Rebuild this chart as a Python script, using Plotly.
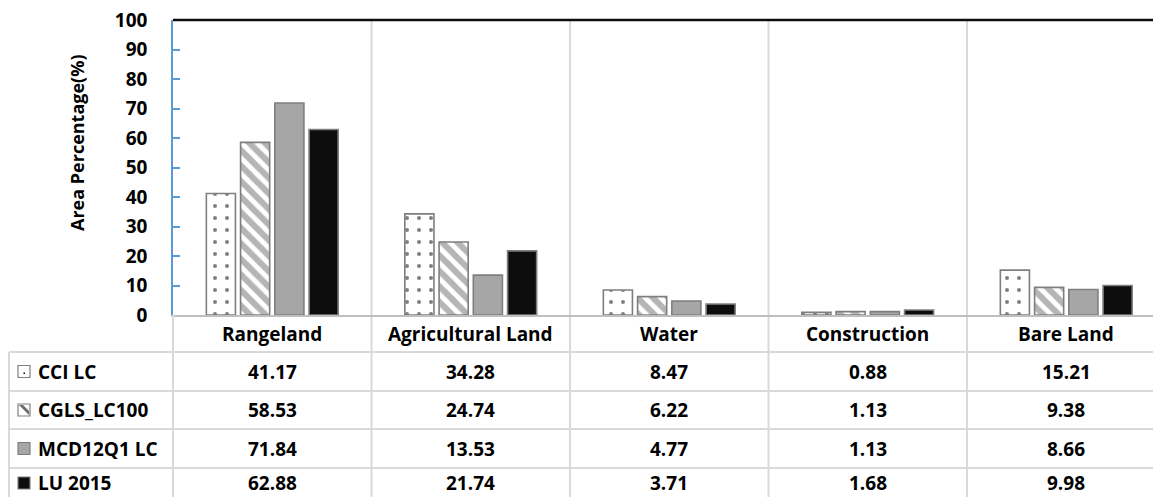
import plotly.graph_objects as go

categories = ["Rangeland", "Agricultural Land", "Water", "Construction", "Bare Land"]
series_names = ["CCI LC", "CGLS_LC100", "MCD12Q1 LC", "LU 2015"]
cci = [41.17, 34.28, 8.47, 0.88, 15.21]
cgls = [58.53, 24.74, 6.22, 1.13, 9.38]
mcd = [71.84, 13.53, 4.77, 1.13, 8.66]
lu = [62.88, 21.74, 3.71, 1.68, 9.98]
y_ticks = [0, 10, 20, 30, 40, 50, 60, 70, 80, 90, 100]

W, H = 1153, 497
FONT = "Open Sans"
GRID = "#d9d9d9"
OUTLINE = "#7f7f7f"
FS = 19

def px(x):
    return x / W

def py(y):
    return 1 - y / H

series = [cci, cgls, mcd, lu]
styles = [
    dict(color="white", pattern=dict(shape=".", fgcolor="black", bgcolor="white", size=12, solidity=0.09)),
    dict(color="white", pattern=dict(shape="\\", fgcolor="#6b6b6b", bgcolor="white", size=11, solidity=0.55)),
    dict(color="#a6a6a6"),
    dict(color="#0d0d0d"),
]

xpos = list(range(len(categories)))
fig = go.Figure()
for name, vals, st in zip(series_names, series, styles):
    marker = dict(color=st["color"], line=dict(color=OUTLINE, width=1.6))
    if "pattern" in st:
        marker["pattern"] = st["pattern"]
    fig.add_trace(go.Bar(x=xpos, y=vals, name=name, marker=marker, showlegend=False))

col_w = 198.5
x_left = 173
x_max = -0.5 + (W - x_left) / col_w

shapes = []
annotations = []

for k in range(len(categories) - 1):
    shapes.append(dict(type="line", xref="x", yref="paper", x0=k + 0.5, x1=k + 0.5,
                       y0=0, y1=py(20), line=dict(color=GRID, width=2), layer="below"))
shapes.append(dict(type="line", xref="paper", yref="paper", x0=px(x_left), x1=px(x_left),
                   y0=0, y1=py(315), line=dict(color=GRID, width=2)))
shapes.append(dict(type="line", xref="paper", yref="paper", x0=px(9), x1=px(9),
                   y0=0, y1=py(352), line=dict(color=GRID, width=2)))
row_lines = [352, 391, 429, 468]
for yl in row_lines:
    shapes.append(dict(type="line", xref="paper", yref="paper", x0=px(9), x1=1,
                       y0=py(yl), y1=py(yl), line=dict(color=GRID, width=2)))
shapes.append(dict(type="line", xref="paper", yref="paper", x0=px(x_left), x1=1,
                   y0=py(20), y1=py(20), line=dict(color="#0d0d0d", width=2.5)))

for i, c in enumerate(categories):
    annotations.append(dict(x=i, y=py(334), xref="x", yref="paper", text=c, showarrow=False,
                            font=dict(family=FONT, size=FS, color="black", weight="bold"),
                            xanchor="center", yanchor="middle"))

row_centers = [371.5, 410, 448.5, 483]
for r, (name, vals) in enumerate(zip(series_names, series)):
    yc = row_centers[r]
    for i, v in enumerate(vals):
        annotations.append(dict(x=i, y=py(yc), xref="x", yref="paper", text=f"{v:.2f}",
                                showarrow=False,
                                font=dict(family=FONT, size=FS, color="black", weight="bold"),
                                xanchor="center", yanchor="middle"))
    annotations.append(dict(x=px(36), y=py(yc), xref="paper", yref="paper", text=name,
                            showarrow=False,
                            font=dict(family=FONT, size=FS, color="black", weight="bold"),
                            xanchor="left", yanchor="middle"))
    fill = ["white", "white", "#a6a6a6", "#0d0d0d"][r]
    x0, x1 = 18, 30
    y0, y1 = yc - 6, yc + 6
    shapes.append(dict(type="rect", xref="paper", yref="paper", x0=px(x0), x1=px(x1),
                       y0=py(y1), y1=py(y0), fillcolor=fill,
                       line=dict(color=OUTLINE, width=1.2)))
    if r == 0:
        shapes.append(dict(type="rect", xref="paper", yref="paper", x0=px(23.5), x1=px(25),
                           y0=py(yc + 2.5), y1=py(yc + 1), fillcolor="black",
                           line=dict(width=0)))
    if r == 1:
        shapes.append(dict(type="path", xref="paper", yref="paper",
                           path=f"M {px(x0+1)} {py(y0+1)} L {px(x0+5)} {py(y0+1)} L {px(x1-1)} {py(y1-5)} L {px(x1-1)} {py(y1-1)} Z",
                           fillcolor="#6b6b6b", line=dict(width=0)))

annotations.append(dict(x=px(77), y=py(143), xref="paper", yref="paper",
                        text="Area Percentage(%)", textangle=-90, showarrow=False,
                        font=dict(family=FONT, size=18, color="black", weight="bold"),
                        xanchor="center", yanchor="middle"))

fig.update_layout(
    width=W, height=H,
    margin=dict(l=0, r=0, t=0, b=0, autoexpand=False),
    paper_bgcolor="white", plot_bgcolor="white",
    showlegend=False,
    barmode="group", bargap=0.31, bargroupgap=0.15,
    shapes=shapes, annotations=annotations,
    xaxis=dict(domain=[px(x_left), 1], range=[-0.5, x_max], showticklabels=False,
               showgrid=False, zeroline=False, showline=True, linecolor="#bfbfbf",
               linewidth=1.5, ticks="", automargin=False),
    yaxis=dict(domain=[py(315), py(20)], range=[0, 100], tickvals=y_ticks,
               ticktext=[str(t) for t in y_ticks], showgrid=False, zeroline=False,
               showline=True, linecolor="#5b9bd5", linewidth=1.5,
               ticks="inside", ticklen=7, tickcolor="#5b9bd5", tickwidth=1.5,
               ticklabelstandoff=20, automargin=False,
               tickfont=dict(family=FONT, size=FS, color="black", weight="bold")),
)

fig.write_html("out.html")
